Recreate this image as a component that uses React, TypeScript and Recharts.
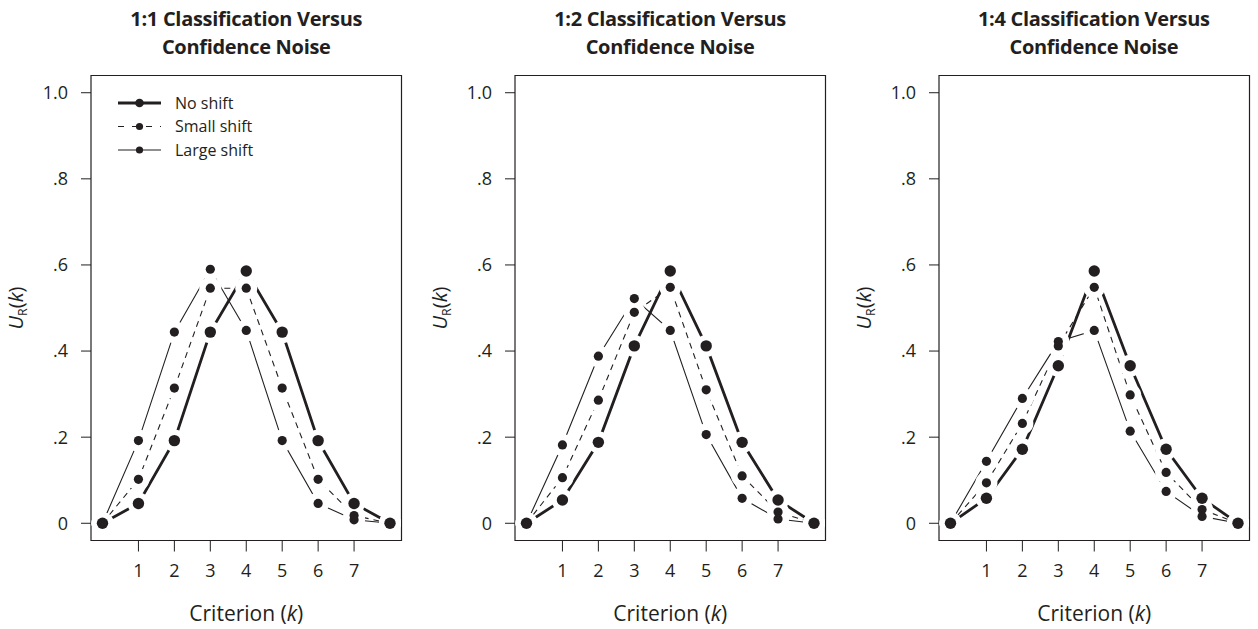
import React from "react"
import {
  ComposedChart,
  Line,
  XAxis,
  YAxis,
  ReferenceArea,
  Legend,
} from "recharts"

// criterion values k
const ks = [0, 1, 2, 3, 4, 5, 6, 7, 8]
const xTicks = [1, 2, 3, 4, 5, 6, 7]
const yTicks = [0, 0.2, 0.4, 0.6, 0.8, 1.0]

const titles = [
  ["1:1 Classification Versus", "Confidence Noise"],
  ["1:2 Classification Versus", "Confidence Noise"],
  ["1:4 Classification Versus", "Confidence Noise"],
]

// panel 1 (1:1)
const noShift1 = [0, 0.046, 0.192, 0.444, 0.586, 0.444, 0.192, 0.046, 0]
const smallShift1 = [0, 0.102, 0.314, 0.546, 0.546, 0.314, 0.102, 0.018, 0]
const largeShift1 = [0, 0.192, 0.444, 0.59, 0.448, 0.192, 0.046, 0.008, 0]

// panel 2 (1:2)
const noShift2 = [0, 0.054, 0.188, 0.412, 0.586, 0.412, 0.188, 0.054, 0]
const smallShift2 = [0, 0.106, 0.286, 0.49, 0.548, 0.31, 0.11, 0.026, 0]
const largeShift2 = [0, 0.182, 0.388, 0.522, 0.448, 0.206, 0.058, 0.01, 0]

// panel 3 (1:4)
const noShift3 = [0, 0.058, 0.172, 0.366, 0.586, 0.366, 0.172, 0.058, 0]
const smallShift3 = [0, 0.094, 0.232, 0.412, 0.548, 0.298, 0.118, 0.032, 0]
const largeShift3 = [0, 0.144, 0.29, 0.422, 0.448, 0.214, 0.074, 0.016, 0]

const INK = "#231f20"
const FONT = "'Open Sans', sans-serif"

const series = [
  { key: "none", name: "No shift", width: 2.8, dash: undefined as string | undefined, r: 5.7, legendR: 4.3 },
  { key: "small", name: "Small shift", width: 1.1, dash: "6 5", r: 4.6, legendR: 3.6 },
  { key: "large", name: "Large shift", width: 1.1, dash: undefined as string | undefined, r: 4.6, legendR: 3.6 },
]

const makeRows = (a: number[], b: number[], c: number[]) =>
  ks.map((k, i) => ({ k, none: a[i], small: b[i], large: c[i] }))

const panels = [
  makeRows(noShift1, smallShift1, largeShift1),
  makeRows(noShift2, smallShift2, largeShift2),
  makeRows(noShift3, smallShift3, largeShift3),
]

const X_DOMAIN: [number, number] = [-0.32, 8.32]
const Y_DOMAIN: [number, number] = [-0.04, 1.04]

const CHART_W = 424
const CHART_H = 629
const MARGIN = { top: 75.5, right: 22.5, bottom: 0, left: 30 }
const PANEL_STEP = 423.8
const GAP_R = 11 // white gap around points, like R's type = "b"

const fmtY = (v: number) => (v === 0 ? "0" : v === 1 ? "1.0" : "." + Math.round(v * 10))

const XLabel = (props: any) => {
  const vb = props.viewBox || {}
  const cx = vb.x + vb.width / 2
  return (
    <text x={cx} y={vb.y + 80} textAnchor="middle" fontSize={21} fill={INK} fontFamily={FONT}>
      <tspan>Criterion (</tspan>
      <tspan fontStyle="italic">k</tspan>
      <tspan>)</tspan>
    </text>
  )
}

const YLabel = (props: any) => {
  const vb = props.viewBox || {}
  const cx = 23
  const cy = vb.y + vb.height / 2
  return (
    <text
      x={cx}
      y={cy}
      transform={`rotate(-90, ${cx}, ${cy})`}
      textAnchor="middle"
      fontSize={20}
      fill={INK}
      fontFamily={FONT}
    >
      <tspan fontStyle="italic">U</tspan>
      <tspan fontSize={12.5} dy={4}>R</tspan>
      <tspan dy={-4}>(</tspan>
      <tspan fontStyle="italic">k</tspan>
      <tspan>)</tspan>
    </text>
  )
}

const LegendBox = () => (
  <svg width={160} height={75} style={{ display: "block", overflow: "visible" }}>
    {series.map((s, i) => {
      const y = 10 + i * 23.5
      return (
        <g key={s.key}>
          <line x1={0} x2={43} y1={y} y2={y} stroke={INK} strokeWidth={s.width === 2.8 ? 3 : 1.2} strokeDasharray={s.dash ? "6 8" : undefined} />
          <circle cx={21.5} cy={y} r={s.legendR} fill={INK} />
          <text x={57} y={y} dy="0.35em" fontSize={16} fill={INK} fontFamily={FONT}>
            {s.name}
          </text>
        </g>
      )
    })}
  </svg>
)

const Panel = ({ idx }: { idx: number }) => {
  const data = panels[idx]
  const left = idx * PANEL_STEP
  return (
    <div style={{ position: "absolute", left, top: 0, width: CHART_W, height: CHART_H }}>
      <div
        style={{
          position: "absolute",
          left: MARGIN.left + 61 - 20,
          top: 5,
          width: CHART_W - MARGIN.left - 61 - MARGIN.right + 40,
          textAlign: "center",
          fontFamily: FONT,
          fontWeight: 700,
          fontSize: 20,
          lineHeight: "28px",
          color: INK,
          letterSpacing: -0.3,
        }}
      >
        <div>{titles[idx][0]}</div>
        <div>{titles[idx][1]}</div>
      </div>
      <ComposedChart width={CHART_W} height={CHART_H} data={data} margin={MARGIN}>
        <XAxis
          type="number"
          dataKey="k"
          domain={X_DOMAIN}
          ticks={xTicks}
          height={88.5}
          axisLine={false}
          tickSize={11}
          tickMargin={13}
          stroke={INK}
          tick={{ fill: INK, fontSize: 18, fontFamily: FONT }}
          label={<XLabel />}
        />
        <YAxis
          type="number"
          domain={Y_DOMAIN}
          ticks={yTicks}
          width={61}
          axisLine={false}
          tickSize={10}
          tickMargin={13}
          stroke={INK}
          tickFormatter={fmtY}
          tick={{ fill: INK, fontSize: 18, fontFamily: FONT }}
          label={<YLabel />}
        />
        <ReferenceArea
          x1={X_DOMAIN[0]}
          x2={X_DOMAIN[1]}
          y1={Y_DOMAIN[0]}
          y2={Y_DOMAIN[1]}
          fill="none"
          stroke={INK}
          strokeWidth={1.2}
          ifOverflow="visible"
        />
        {series.map((s) => (
          <Line
            key={"l" + s.key}
            dataKey={s.key}
            stroke={INK}
            strokeWidth={s.width}
            strokeDasharray={s.dash}
            dot={false}
            activeDot={false}
            legendType="none"
            isAnimationActive={false}
          />
        ))}
        {series.map((s) => (
          <Line
            key={"h" + s.key}
            dataKey={s.key}
            stroke="none"
            dot={{ r: GAP_R, fill: "#fff", stroke: "none" }}
            activeDot={false}
            legendType="none"
            isAnimationActive={false}
          />
        ))}
        {series.map((s) => (
          <Line
            key={"d" + s.key}
            dataKey={s.key}
            name={s.name}
            stroke="none"
            dot={{ r: s.r, fill: INK, stroke: "none" }}
            activeDot={false}
            legendType="none"
            isAnimationActive={false}
          />
        ))}
        {idx === 0 && (
          <Legend
            layout="horizontal"
            verticalAlign="middle"
            align="center"
            wrapperStyle={{ top: 93, left: 118, width: "auto", height: "auto" }}
            content={() => <LegendBox />}
          />
        )}
      </ComposedChart>
    </div>
  )
}

export default function App() {
  return (
    <div
      style={{
        position: "absolute",
        left: 0,
        top: 0,
        width: 1258,
        height: 629,
        overflow: "hidden",
        background: "#fff",
        fontFamily: FONT,
      }}
    >
      {[0, 1, 2].map((i) => (
        <Panel key={i} idx={i} />
      ))}
    </div>
  )
}
